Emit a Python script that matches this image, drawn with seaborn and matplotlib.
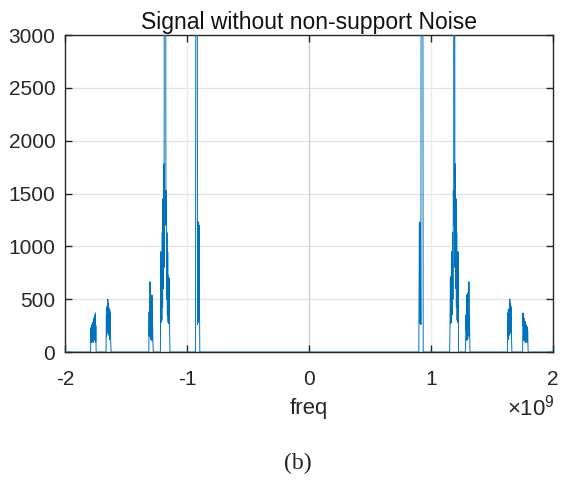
import numpy as np
import pandas as pd
import seaborn as sns
import matplotlib
matplotlib.use("Agg")
import matplotlib.pyplot as plt

# ---- data (freq in units of 1e9, amplitude) ----
freq_left = [
    -2.0,
    # cluster near -1.77
    -1.790, -1.787, -1.785, -1.783, -1.781, -1.779, -1.777, -1.775, -1.773, -1.771,
    -1.769, -1.767, -1.765, -1.763, -1.761, -1.759, -1.757, -1.755, -1.753, -1.751,
    -1.749, -1.747, -1.745,
    # cluster near -1.64
    -1.664, -1.661, -1.659, -1.657, -1.655, -1.653, -1.651, -1.649, -1.647, -1.645,
    -1.643, -1.641, -1.639, -1.637, -1.635, -1.633, -1.631, -1.629, -1.626, -1.622,
    # cluster near -1.30
    -1.313, -1.311, -1.309, -1.307, -1.305, -1.303, -1.301, -1.299, -1.297, -1.295,
    -1.293, -1.291, -1.289, -1.287, -1.285, -1.283, -1.280, -1.276,
    # cluster near -1.18
    -1.218, -1.215, -1.212, -1.209, -1.206, -1.203, -1.200, -1.197, -1.194, -1.191,
    -1.188, -1.180, -1.173, -1.170, -1.167, -1.164, -1.161, -1.158, -1.155, -1.152,
    -1.149, -1.146, -1.143, -1.140,
    # cluster near -0.92
    -0.930, -0.921, -0.914, -0.911, -0.908, -0.905, -0.903, -0.901, -0.899, -0.895,
]
amp_left = [
    0,
    0, 230, 90, 250, 120, 260, 100, 280, 130, 250,
    90, 300, 150, 320, 110, 290, 140, 350, 200, 370,
    90, 250, 0,
    0, 350, 150, 420, 200, 440, 180, 500, 220, 460,
    160, 420, 200, 380, 120, 400, 150, 370, 120, 0,
    0, 380, 150, 440, 200, 665, 250, 560, 120, 480,
    180, 400, 110, 540, 200, 350, 100, 0,
    0, 950, 280, 890, 300, 1130, 420, 1450, 600, 1780,
    800, 16000, 1200, 1530, 500, 1130, 350, 950, 280, 720,
    270, 700, 250, 0,
    0, 16000, 260, 1230, 280, 1230, 300, 1200, 700, 0,
]
freq_right = [
    # cluster near 0.92
    0.900, 0.903, 0.905, 0.907, 0.909, 0.911, 0.914, 0.917, 0.925, 0.936,
    # cluster near 1.19
    1.153, 1.156, 1.159, 1.162, 1.165, 1.168, 1.171, 1.174, 1.177, 1.180,
    1.183, 1.186, 1.189, 1.196, 1.199, 1.202, 1.205, 1.208, 1.211, 1.214,
    1.217, 1.220, 1.223, 1.226,
    # cluster near 1.30
    1.281, 1.284, 1.287, 1.289, 1.291, 1.293, 1.295, 1.297, 1.299, 1.301,
    1.303, 1.305, 1.307, 1.309, 1.311, 1.313, 1.315, 1.319,
    # cluster near 1.645
    1.627, 1.630, 1.632, 1.634, 1.636, 1.638, 1.640, 1.642, 1.644, 1.646,
    1.648, 1.650, 1.652, 1.654, 1.656, 1.658, 1.660, 1.663,
    # cluster near 1.77
    1.751, 1.754, 1.756, 1.758, 1.760, 1.762, 1.764, 1.766, 1.768, 1.770,
    1.772, 1.774, 1.776, 1.778, 1.780, 1.782, 1.784, 1.786, 1.788, 1.790,
    1.793, 1.796,
    2.0,
]
amp_right = [
    0, 700, 1220, 300, 1230, 270, 1200, 260, 16000, 0,
    0, 250, 700, 270, 720, 280, 950, 350, 1130, 500,
    1530, 1200, 16000, 800, 1780, 600, 1450, 420, 1130, 300,
    890, 280, 950, 0,
    0, 100, 350, 200, 540, 110, 400, 180, 480, 120,
    560, 250, 440, 200, 665, 150, 380, 0,
    0, 370, 150, 400, 120, 380, 200, 420, 160, 500,
    220, 460, 180, 440, 200, 420, 150, 0,
    0, 370, 250, 350, 110, 320, 140, 300, 150, 290,
    90, 280, 130, 260, 100, 250, 120, 240, 90, 230,
    200, 0,
    0,
]
xticks = [-2, -1, 0, 1, 2]
yticks = [0, 500, 1000, 1500, 2000, 2500, 3000]

df = pd.DataFrame({
    "freq": freq_left + freq_right,
    "amp": amp_left + amp_right,
})

sns.set_theme(style="white")
plt.rcParams["font.family"] = ["Liberation Sans", "DejaVu Sans"]
plt.rcParams["mathtext.fontset"] = "custom"
plt.rcParams["mathtext.rm"] = "Liberation Sans"
plt.rcParams["mathtext.it"] = "Liberation Sans:italic"

fig = plt.figure(figsize=(5.62, 4.86), dpi=100)
ax = fig.add_axes([65/562, 1-352/486, (553-65)/562, (352-35)/486])

# grid
for yv in yticks[1:-1]:
    ax.axhline(yv, color="#e3e3e3", lw=0.9, zorder=0)
for xv in xticks[1:-1]:
    ax.axvline(xv, color="#cfcfcf" if xv == 0 else "#ebebeb", lw=1.0, zorder=0)

sns.lineplot(data=df, x="freq", y="amp", ax=ax, estimator=None, sort=False,
             color="#0072BD", lw=0.7, zorder=3)

ax.set_xlim(-2, 2)
ax.set_ylim(0, 3000)
ax.set_xticks(xticks)
ax.set_yticks(yticks)
ax.set_xticklabels([str(v) for v in xticks])
ax.set_yticklabels([str(v) for v in yticks])
ax.tick_params(direction="in", length=5, width=1.0, color="#262626",
               labelsize=15, labelcolor="#262626", top=True, right=True,
               bottom=True, left=True)
ax.tick_params(axis="y", pad=7)
ax.tick_params(axis="x", pad=13)
for s in ax.spines.values():
    s.set_color("#262626")
    s.set_linewidth(1.0)

ax.set_title("Signal without non-support Noise", fontsize=16.5, color="#111111", pad=4)
ax.set_xlabel("freq", fontsize=16, color="#262626")
ax.set_ylabel("")
ax.xaxis.set_label_coords(0.5, (352-408)/317)
ax.xaxis.label.set_va("center")

fig.text(555/562, 1-408/486, r"$\times10^{9}$", ha="right", va="center",
         fontsize=16, color="#262626")
fig.text(298/562, 1-463/486, "(b)", ha="center", va="center",
         fontsize=17, family="Liberation Serif", color="#222222")

fig.savefig("out.png", dpi=100, facecolor="white")
